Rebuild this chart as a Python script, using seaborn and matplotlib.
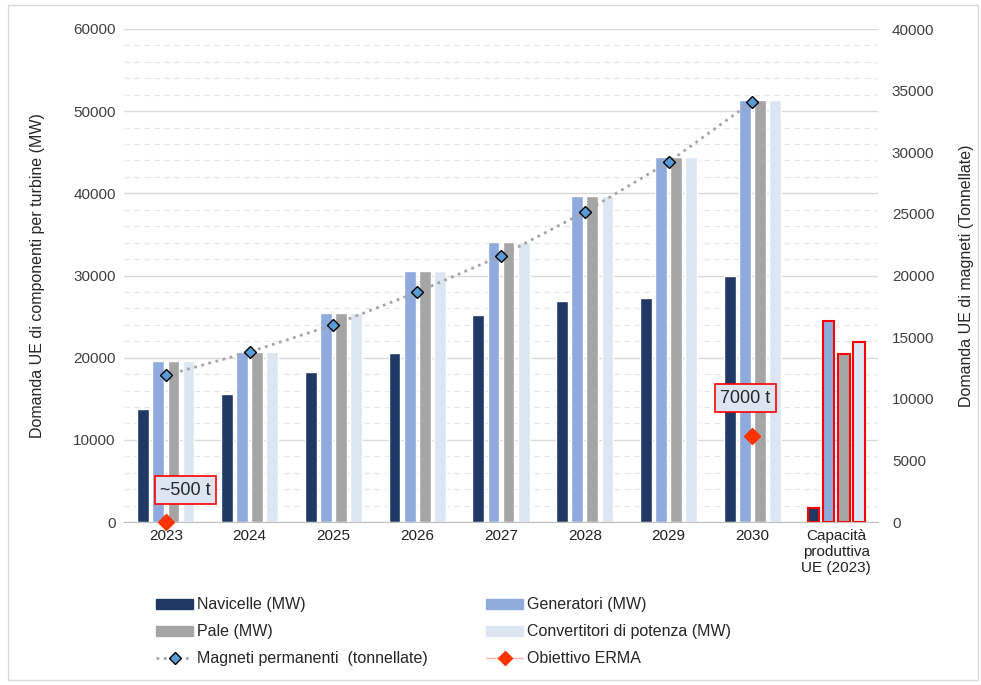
import numpy as np
import pandas as pd
import matplotlib
matplotlib.use("Agg")
import matplotlib.pyplot as plt
import seaborn as sns
from matplotlib.ticker import MultipleLocator
from matplotlib.lines import Line2D
from matplotlib.patches import Patch, Rectangle

categories = ['2023', '2024', '2025', '2026', '2027', '2028', '2029', '2030',
              'Capacità\nproduttiva\nUE (2023)']
navicelle = [13750, 15600, 18250, 20600, 25200, 26900, 27300, 29900, 1700]
generatori = [19600, 20700, 25400, 30550, 34100, 39700, 44450, 51350, 24450]
pale = [19600, 20700, 25400, 30550, 34100, 39700, 44450, 51350, 20450]
convertitori = [19600, 20700, 25400, 30550, 34100, 39700, 44450, 51350, 21900]
magneti = [11900, 13800, 16000, 18650, 21600, 25150, 29200, 34100]
erma_years = ['2023', '2030']
erma = [0, 7000]
erma_labels = ['~500 t', '7000 t']

series = ['Navicelle (MW)', 'Generatori (MW)', 'Pale (MW)', 'Convertitori di potenza (MW)']
colors = ['#203864', '#8FAADC', '#A5A5A5', '#DCE6F2']

df = pd.DataFrame({
    'cat': categories * 4,
    'serie': np.repeat(series, len(categories)),
    'val': navicelle + generatori + pale + convertitori,
})

sns.set_style('white')
plt.rcParams['font.family'] = ['Liberation Sans', 'DejaVu Sans']
fs = 11

fig = plt.figure(figsize=(9.81, 6.85), dpi=100)
ax = fig.add_axes([124/981, 1-522/685, (878-124)/981, (522-29)/685])

sns.barplot(data=df, x='cat', y='val', hue='serie', palette=colors, order=categories,
            hue_order=series, width=0.72, gap=0.22, ax=ax, legend=False, saturation=1)
for cont in ax.containers:
    cont.patches[-1].set_edgecolor('#FF0000')
    cont.patches[-1].set_linewidth(1.5)

ax.set_ylim(0, 60000)
ax.yaxis.set_major_locator(MultipleLocator(10000))
ax.yaxis.set_minor_locator(MultipleLocator(2000))
ax.grid(axis='y', which='major', color='#D9D9D9', linewidth=1)
ax.grid(axis='y', which='minor', color='#E6E6E6', linewidth=0.8, linestyle=(0, (5, 4)))
ax.set_axisbelow(True)
ax.set_xlim(-0.5, len(categories) - 0.5)
ax.set_xlabel('')
ax.set_ylabel('Domanda UE di componenti per turbine (MW)', fontsize=fs + 0.5, labelpad=20)
ax.tick_params(axis='y', which='both', length=0, labelsize=fs, colors='#404040', pad=6)
ax.tick_params(axis='x', which='major', length=0, labelsize=fs, colors='#222222', pad=5)
ax.set_xticks(np.arange(len(categories) + 1) - 0.5, minor=True)
ax.tick_params(axis='x', which='minor', length=5, color='#BFBFBF')
for s in ['left', 'right', 'top']:
    ax.spines[s].set_visible(False)
ax.spines['bottom'].set_color('#BFBFBF')

ax2 = ax.twinx()
xm = np.arange(len(magneti))
ax2.plot(xm, magneti, color='#A6A6A6', linestyle=':', linewidth=2,
         marker='D', markersize=6, markerfacecolor='#5B9BD5', markeredgecolor='black',
         markeredgewidth=1.0, zorder=5)
xe = [categories.index(y) for y in erma_years]
ax2.plot(xe, erma, linestyle='none', marker='D', markersize=8, color='#FF3300',
         zorder=6, clip_on=False)
offsets = [(14, 23), (-5, 27)]
for xi, yi, lab, off in zip(xe, erma, erma_labels, offsets):
    ax2.annotate(lab, (xi, yi), xytext=off, textcoords='offset points',
                 ha='center', va='center', fontsize=fs + 2,
                 bbox=dict(boxstyle='square,pad=0.3', fc='#DCE6F2', ec='#FF0000', lw=1.2))
ax2.set_ylim(0, 40000)
ax2.yaxis.set_major_locator(MultipleLocator(5000))
ax2.set_ylabel('Domanda UE di magneti (Tonnellate)', fontsize=fs + 0.5, labelpad=18)
ax2.tick_params(axis='y', length=0, labelsize=fs, colors='#404040', pad=10)
for s in ['left', 'right', 'top', 'bottom']:
    ax2.spines[s].set_visible(False)

handles = [
    Patch(color=colors[0]), Patch(color=colors[2]),
    Line2D([], [], color='#A6A6A6', linestyle=':', linewidth=2, marker='D', markersize=6,
           markerfacecolor='#5B9BD5', markeredgecolor='black'),
    Patch(color=colors[1]), Patch(color=colors[3]),
    Line2D([], [], color='#FFB0A0', linewidth=1, marker='D', markersize=7,
           markerfacecolor='#FF3300', markeredgecolor='#FF3300'),
]
labels = [series[0], series[2], 'Magneti permanenti  (tonnellate)',
          series[1], series[3], 'Obiettivo ERMA']
leg = fig.legend(handles, labels, ncol=2, loc='upper left',
                 bbox_to_anchor=(142/981, 1-583/685), frameon=False, fontsize=fs + 0.5,
                 handlelength=37 / ((fs + 0.5) * 100 / 72), handleheight=0.6,
                 columnspacing=1.0, labelspacing=0.75, handletextpad=0.2)
fig.canvas.draw()
# move second legend column so it starts at x=483px
cols = leg._legend_handle_box.get_children()
if len(cols) == 2:
    r = fig.canvas.get_renderer()
    x0 = cols[0].get_window_extent(r).x0
    x1 = cols[1].get_window_extent(r).x0
    leg._legend_handle_box.sep = leg._legend_handle_box.sep + (483 - 150) - (x1 - x0) - 15

fig.patches.append(Rectangle((8/981, 5/685), 970/981, 675/685, transform=fig.transFigure,
                             fill=False, edgecolor='#D9D9D9', linewidth=1))

fig.savefig('out.png', dpi=100)
